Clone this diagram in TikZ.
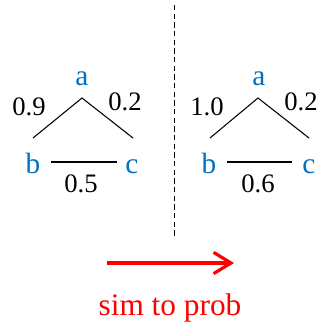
\documentclass[tikz,border=0pt]{standalone}
\usepackage{fontspec}
\setmainfont{Liberation Serif}
\usetikzlibrary{arrows.meta}
\definecolor{nodeblue}{RGB}{0,112,192}
\begin{document}
\begin{tikzpicture}[x=0.75pt,y=-0.75pt,
  lbl/.style={font=\fontsize{20}{24}\selectfont, inner sep=0pt, anchor=base},
  vert/.style={lbl, text=nodeblue, font=\fontsize{22}{26}\selectfont},
  edge/.style={line width=0.8pt},
  base/.style={line width=1.5pt}]
\useasboundingbox (0,0) rectangle (321,329);
% left tree
\node[vert] (la) at (82,85) {a};
\node[vert] (lb) at (33,173) {b};
\node[vert] (lc) at (132,173) {c};
\node[lbl] (l09) at (29,115) {0.9};
\node[lbl] (l02) at (125,110) {0.2};
\node[lbl] (l05) at (81,192) {0.5};
\coordinate (lapex) at (82,98);
\coordinate (lleft) at (33,138);
\coordinate (lright) at (133,138);
\coordinate (lb1) at (51,162);
\coordinate (lc1) at (117,162);
\draw[edge] (lleft) -- (lapex) -- (lright);
\draw[base] (lb1) -- (lc1);
% right tree
\node[vert] (ra) at (259,85) {a};
\node[vert] (rb) at (209,173) {b};
\node[vert] (rc) at (309,173) {c};
\node[lbl] (r10) at (207,115) {1.0};
\node[lbl] (r02) at (301,110) {0.2};
\node[lbl] (r06) at (258,192) {0.6};
\coordinate (rapex) at (258,98);
\coordinate (rleft) at (210,138);
\coordinate (rright) at (309,138);
\coordinate (rb1) at (227,162);
\coordinate (rc1) at (292,162);
\draw[edge] (rleft) -- (rapex) -- (rright);
\draw[base] (rb1) -- (rc1);
% divider
\coordinate (dtop) at (174,5);
\coordinate (dbot) at (174,239);
\draw[line width=0.75pt, dash pattern=on 4pt off 2.5pt] (dtop) -- (dbot);
% arrow
\coordinate (astart) at (107,263);
\coordinate (aend) at (234,263);
\draw[red, line width=2.4pt, -{Straight Barb[length=13pt,width=16pt,line width=2.4pt]}] (astart) -- (aend);
\node[lbl, text=red, font=\fontsize{23.5}{28}\selectfont] (cap) at (170,315) {sim to prob};
\end{tikzpicture}
\end{document}
